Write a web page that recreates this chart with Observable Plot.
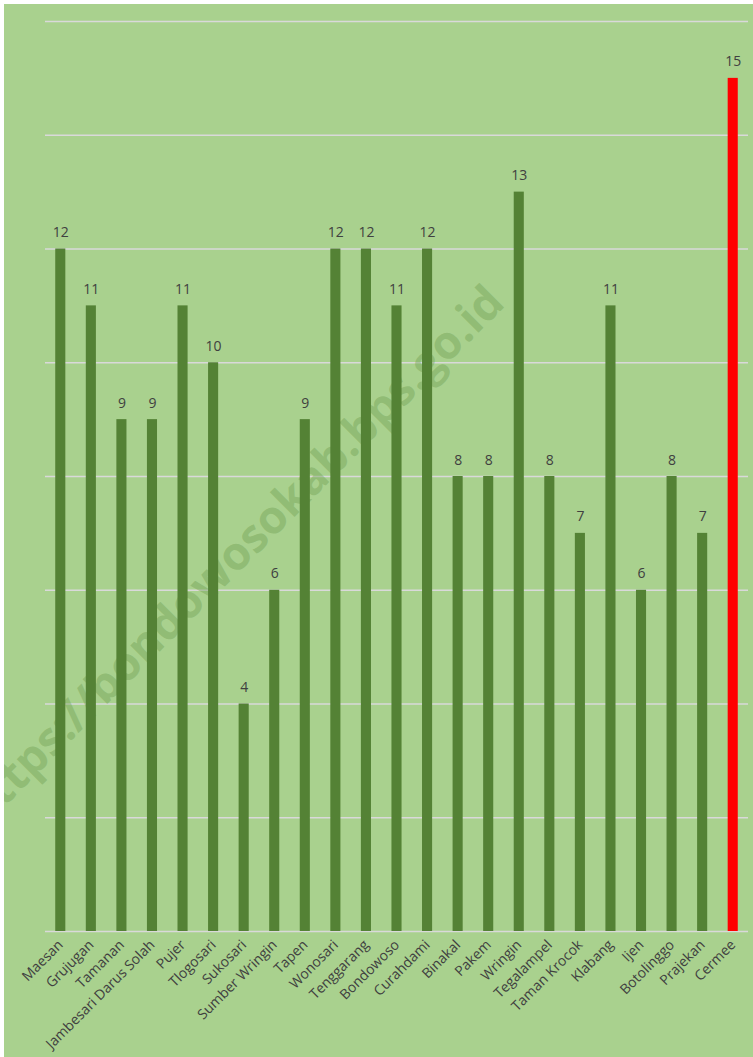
<!DOCTYPE html>
<html>
<head>
<meta charset="utf-8">
<script src="https://cdn.jsdelivr.net/npm/d3@7"></script>
<script src="https://cdn.jsdelivr.net/npm/@observablehq/plot@0.6"></script>
<style>
  html, body { margin: 0; padding: 0; background: #ffffff; }
  #chart { position: absolute; left: 4px; top: 4px; width: 749px; height: 1053px; background: #a9d18e; overflow: hidden; }
  #chart svg { display: block; }
</style>
</head>
<body>
<div id="chart"></div>
<script>
const districts = ["Maesan", "Grujugan", "Tamanan", "Jambesari Darus Solah", "Pujer", "Tlogosari", "Sukosari", "Sumber Wringin", "Tapen", "Wonosari", "Tenggarang", "Bondowoso", "Curahdami", "Binakal", "Pakem", "Wringin", "Tegalampel", "Taman Krocok", "Klabang", "Ijen", "Botolinggo", "Prajekan", "Cermee"];
const values = [12, 11, 9, 9, 11, 10, 4, 6, 9, 12, 12, 11, 12, 8, 8, 13, 8, 7, 11, 6, 8, 7, 15];
const highlighted = "Cermee";
const gridTicks = [0, 2, 4, 6, 8, 10, 12, 14, 16];
const watermark = "https://bondowosokab.bps.go.id";

const data = districts.map((d, i) => ({ district: d, value: values[i] }));

const chart = Plot.plot({
  width: 749,
  height: 1053,
  marginLeft: 41,
  marginRight: 5,
  marginTop: 17,
  marginBottom: 126,
  style: { background: "transparent", fontFamily: "'Open Sans', Lato, sans-serif", color: "#404040", overflow: "hidden" },
  x: { domain: districts, paddingInner: 0.67, paddingOuter: 0.335, round: false, label: null },
  y: { domain: [0, 16], label: null, axis: null },
  marks: [
    Plot.gridY(gridTicks, { stroke: "#d9d9d9", strokeOpacity: 1, strokeWidth: 1.5 }),
    Plot.text([watermark], {
      frameAnchor: "middle",
      dx: -163,
      dy: 80,
      rotate: -45,
      fontSize: 46,
      fontWeight: "bold",
      fill: "#6f9f52",
      fillOpacity: 0.42,
      fontFamily: "'Open Sans', sans-serif"
    }),
    Plot.barY(data, {
      x: "district",
      y: "value",
      fill: d => d.district === highlighted ? "#ff0000" : "#548235"
    }),
    Plot.text(data, {
      x: "district",
      y: "value",
      text: d => String(d.value),
      lineAnchor: "bottom",
      dy: -12,
      fontSize: 14,
      fill: "#404040"
    }),
    Plot.axisX({
      tickSize: 0,
      tickPadding: 11,
      tickRotate: -45,
      fontSize: 14,
      fill: "#404040",
      label: null
    })
  ]
});

document.getElementById("chart").appendChild(chart);
</script>
</body>
</html>
